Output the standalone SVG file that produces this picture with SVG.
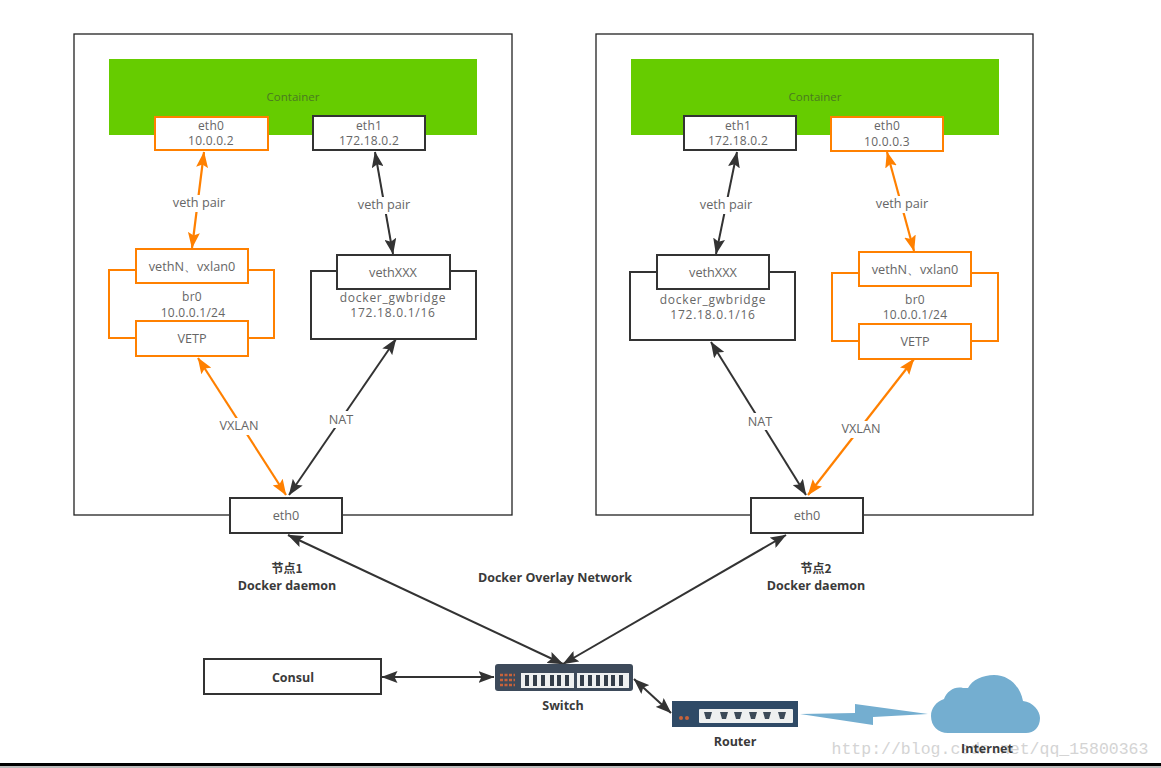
<svg xmlns="http://www.w3.org/2000/svg" width="1161" height="768" viewBox="0 0 1161 768">
<style>
text{font-family:"Open Sans","Liberation Sans",sans-serif;font-size:12.700px;fill:#666;text-anchor:middle}
.b{font-weight:700;fill:#3a3a3a;font-size:12.500px}
.cjk{font-family:"Noto Sans CJK SC","Open Sans",sans-serif;font-size:12px}
.c{font-size:11.500px;fill:#4a7a20}
.t{font-size:12px;letter-spacing:.25px}
.d{font-size:12px;letter-spacing:.75px}
.k{fill:#fff;stroke:#333;stroke-width:2}
.o{fill:#fff;stroke:#ff8000;stroke-width:2}
.lk{stroke:#333;stroke-width:2;fill:none;marker-start:url(#ak);marker-end:url(#ak)}
.lo{stroke:#ff8000;stroke-width:2.200;fill:none;marker-start:url(#ao);marker-end:url(#ao)}
.g{fill:#66cc00}
.w{fill:#fff}
.f{fill:#fff;stroke:#222;stroke-width:1.300}
</style>
<defs>
<marker id="ak" viewBox="0 0 16 12" refX="15.500" refY="6" markerUnits="userSpaceOnUse" markerWidth="16" markerHeight="12" orient="auto-start-reverse"><path d="M0 0L16 6L0 12L3 6Z" fill="#333"/></marker>
<marker id="ao" viewBox="0 0 16 12" refX="15.500" refY="6" markerUnits="userSpaceOnUse" markerWidth="16" markerHeight="12" orient="auto-start-reverse"><path d="M0 0L16 6L0 12L3 6Z" fill="#ff8000"/></marker>
</defs>
<rect width="1161" height="768" fill="#fff"/>
<g id="frames">
<rect id="node1-frame" class="f" x="74" y="34" width="438" height="481"/>
<rect id="node2-frame" class="f" x="596" y="34" width="437" height="481"/>
</g>
<g id="container1"><rect class="g" x="109" y="59" width="368" height="76"/><text class="c" x="293" y="101">Container</text></g>
<g id="container2"><rect class="g" x="631" y="59" width="368" height="76"/><text class="c" x="815" y="101">Container</text></g>
<g id="connectors">
<path class="lo" d="M204 152L192 248"/>
<path class="lk" d="M375 152L393 254"/>
<path class="lo" d="M198 358L286 495"/>
<path class="lk" d="M396 339L289 495"/>
<path class="lk" d="M288 535L563 664"/>
<path class="lk" d="M737 152L716 254"/>
<path class="lo" d="M887 152L914 251"/>
<path class="lk" d="M711 342L806 495"/>
<path class="lo" d="M914 359L808 495"/>
<path class="lk" d="M786 535L563 664"/>
<path class="lk" d="M382 677L494 677"/>
<path class="lk" d="M634 679L671 713"/>
</g>
<g id="connector-labels">
<rect class="w" x="170" y="195" width="58" height="17"/><text x="199" y="207">veth pair</text>
<rect class="w" x="355" y="197" width="58" height="17"/><text x="384" y="209">veth pair</text>
<rect class="w" x="216" y="418" width="46" height="17"/><text x="239" y="430">VXLAN</text>
<rect class="w" x="326" y="411" width="30" height="17"/><text x="341" y="424">NAT</text>
<rect class="w" x="697" y="197" width="58" height="17"/><text x="726" y="209">veth pair</text>
<rect class="w" x="873" y="196" width="58" height="17"/><text x="902" y="208">veth pair</text>
<rect class="w" x="745" y="413" width="30" height="17"/><text x="760" y="426">NAT</text>
<rect class="w" x="838" y="421" width="46" height="17"/><text x="861" y="433">VXLAN</text>
</g>
<g id="eth0-c1"><rect class="o" x="155" y="117" width="113" height="33"/><text class="t" x="211" y="130">eth0</text><text class="t" x="211" y="145">10.0.0.2</text></g>
<g id="eth1-c1"><rect class="k" x="313" y="116" width="112" height="34"/><text class="t" x="369" y="130">eth1</text><text class="t" x="369" y="145">172.18.0.2</text></g>
<g id="br0-1"><rect class="o" x="109" y="270" width="165" height="68"/><text class="t" x="192" y="301">br0</text><text class="t" x="193" y="317">10.0.0.1/24</text></g>
<g id="veth-1"><rect class="o" x="136" y="249" width="112" height="34"/><text x="192" y="271">vethN、vxlan0</text></g>
<g id="vetp-1"><rect class="o" x="136" y="321" width="112" height="35"/><text x="192" y="343">VETP</text></g>
<g id="gw-1"><rect class="k" x="311" y="271" width="165" height="68"/><text class="d" x="393" y="302">docker_gwbridge</text><text class="d" x="393" y="317">172.18.0.1/16</text></g>
<g id="vethx-1"><rect class="k" x="337" y="255" width="113" height="34"/><text x="393" y="277">vethXXX</text></g>
<g id="eth0-n1"><rect class="k" x="230" y="498" width="112" height="35"/><text x="286" y="520">eth0</text></g>
<g id="eth1-c2"><rect class="k" x="684" y="116" width="112" height="34"/><text class="t" x="738" y="130">eth1</text><text class="t" x="738" y="145">172.18.0.2</text></g>
<g id="eth0-c2"><rect class="o" x="831" y="117" width="112" height="34"/><text class="t" x="887" y="130">eth0</text><text class="t" x="887" y="146">10.0.0.3</text></g>
<g id="gw-2"><rect class="k" x="630" y="272" width="165" height="68"/><text class="d" x="713" y="304">docker_gwbridge</text><text class="d" x="713" y="319">172.18.0.1/16</text></g>
<g id="vethx-2"><rect class="k" x="657" y="255" width="112" height="34"/><text x="713" y="277">vethXXX</text></g>
<g id="br0-2"><rect class="o" x="832" y="273" width="166" height="68"/><text class="t" x="915" y="304">br0</text><text class="t" x="915" y="319">10.0.0.1/24</text></g>
<g id="veth-2"><rect class="o" x="859" y="252" width="112" height="34"/><text x="915" y="274">vethN、vxlan0</text></g>
<g id="vetp-2"><rect class="o" x="859" y="324" width="112" height="35"/><text x="915" y="346">VETP</text></g>
<g id="eth0-n2"><rect class="k" x="751" y="498" width="112" height="35"/><text x="807" y="520">eth0</text></g>
<g id="labels">
<text class="b cjk" x="287" y="573">节点1</text>
<text class="b" x="287" y="590">Docker daemon</text>
<text class="b cjk" x="816" y="573">节点2</text>
<text class="b" x="816" y="590">Docker daemon</text>
<text class="b" x="555" y="582">Docker Overlay Network</text>
</g>
<g id="consul"><rect class="k" x="204" y="659" width="177" height="35"/><text class="b" x="293" y="682">Consul</text></g>
<g id="switch">
<rect x="495" y="664" width="138" height="27" rx="3" fill="#3d4a5a"/>
<rect x="521" y="673" width="53" height="15" fill="#eef0f0"/><rect x="577" y="673" width="52" height="15" fill="#eef0f0"/>
<g fill="#333d48">
<rect x="525" y="675" width="4" height="11"/><rect x="533" y="675" width="4" height="11"/><rect x="541" y="675" width="4" height="11"/><rect x="550" y="675" width="4" height="11"/><rect x="557" y="675" width="4" height="11"/><rect x="565" y="675" width="4" height="11"/>
<rect x="580" y="675" width="4" height="11"/><rect x="588" y="675" width="4" height="11"/><rect x="596" y="675" width="4" height="11"/><rect x="604" y="675" width="4" height="11"/><rect x="611" y="675" width="4" height="11"/><rect x="619" y="675" width="4" height="11"/>
</g>
<path d="M500 675h15M500 680h15M500 685h15" stroke="#c8623a" stroke-width="2.500" stroke-dasharray="3 1.500"/>
<text class="b" x="563" y="710">Switch</text>
</g>
<g id="router">
<rect x="672" y="701" width="126" height="26" fill="#2f4a66"/>
<rect x="699" y="709" width="94" height="14" rx="1" fill="#eef0f0"/>
<path d="M704 712h8l-2 7h-4zM720 712h8l-2 7h-4zM734 712h8l-2 7h-4zM749 712h8l-2 7h-4zM763 712h8l-2 7h-4zM778 712h8l-2 7h-4z" fill="#3c4a58"/>
<circle cx="681" cy="718" r="2" fill="#c8623a"/><circle cx="687" cy="718" r="2" fill="#c8623a"/>
<text class="b" x="735" y="746">Router</text>
</g>
<g id="internet">
<path d="M800 714L855 713L855 704L928 714L873 717L873 725Z" fill="#74aed0"/>
<path d="M948 733C938 733 931 726 931 716C931 708 936 702 944 699C947 691 955 686 963 688L968 688C972 680 983 675 994 675C1009 675 1020 686 1023 701C1033 702 1040 711 1040 718C1040 727 1034 733 1026 733Z" fill="#74aed0"/>
</g>
<text x="990" y="754" style="font-family:'Liberation Mono',monospace;font-size:16.500px;fill:#d4d4d4">http://blog.csdn.net/qq_15800363</text>
<text class="b" x="987" y="753">Internet</text>
<rect x="0" y="763" width="1161" height="3" fill="#000"/>
<rect x="0" y="766" width="1161" height="2" fill="#bbb"/>
</svg>
